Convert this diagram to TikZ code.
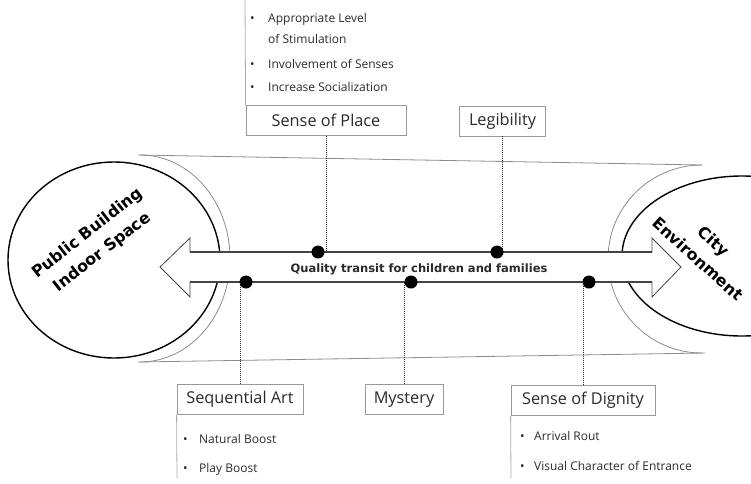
\documentclass[tikz,border=0pt]{standalone}
\usepackage{fontspec}
\setmainfont{Open Sans}
\newfontfamily\headfont{DejaVu Sans}
\definecolor{ink}{HTML}{2A2A2A}
\definecolor{boxgray}{HTML}{999999}
\definecolor{tubegray}{HTML}{8C8C8C}
\definecolor{shaftgray}{HTML}{444444}
\begin{document}
\begin{tikzpicture}[x=1pt,y=-1pt,
  box/.style={draw=boxgray, line width=0.8pt, fill=white, minimum height=30pt,
    inner sep=0pt, font=\fontsize{16.3}{18}\selectfont, text=ink},
  item/.style={anchor=base west, inner sep=0pt, font=\fontsize{12}{14}\selectfont, text=ink},
  dot/.style={circle, fill=black, minimum size=13pt, inner sep=0pt},
  link/.style={densely dotted, line width=1pt, draw=black!85},
  listline/.style={draw=boxgray!80, line width=0.8pt},
  tube/.style={draw=tubegray, line width=0.8pt},
  ring/.style={draw=black, line width=1.4pt},
  headtxt/.style={font=\headfont\bfseries\fontsize{16}{24}\selectfont, align=center, inner sep=0pt}]
\useasboundingbox (0,0) rectangle (751,483);

% tube between the two spaces
\draw[tube] (138,155) -- (702,165);
\draw[tube] (138,362) -- (705,353);
\draw[tube] (140,155) arc[start angle=-90, end angle=90, x radius=90, y radius=103.5];
\draw[tube] (702,165) arc[start angle=270, end angle=90, x radius=94, y radius=94];

% the two spaces
\draw[ring] (114,260) ellipse [x radius=106, y radius=98];
\draw[ring] (742,256) ellipse [x radius=120, y radius=80];
\node[headtxt, rotate=38] (pb) at (95,243) {Public Building\\Indoor Space};
\node[headtxt, rotate=-42] (ce) at (706,250) {City\\Environment};

% double-headed transit arrow
\draw[draw=shaftgray, line width=0.8pt, fill=white]
  (190,252) -- (652,252) -- (652,238) -- (681,267) -- (652,297) -- (652,282)
  -- (190,282) -- (190,297) -- (160,267) -- (190,238) -- cycle;
\draw[draw=shaftgray, line width=1.6pt] (190,252) -- (652,252);
\draw[draw=shaftgray, line width=1.6pt] (190,282) -- (652,282);
\node[font=\headfont\bfseries\fontsize{11.5}{13}\selectfont, text=ink] (ql) at (419,269.5)
  {Quality transit for children and families};

% qualities
\node[box, minimum width=160pt] (sop) at (326,120.5) {Sense of Place};
\node[box, minimum width=86pt] (leg) at (502.5,121) {Legibility};
\node[box, minimum width=126pt] (seq) at (240,399.5) {Sequential Art};
\node[box, minimum width=78pt] (mys) at (404,399.5) {Mystery};
\node[box, minimum width=144pt] (dig) at (583,400.5) {Sense of Dignity};

\node[dot] (d1) at (318,252) {};
\node[dot] (d2) at (497,252) {};
\node[dot] (d3) at (246,282) {};
\node[dot] (d4) at (411,282) {};
\node[dot] (d5) at (589,282) {};

\draw[link] (sop.south) -- (sop.south |- d1.center);
\draw[link] (leg.south) -- (leg.south |- d2.center);
\draw[link] (seq.north) -- (seq.north |- d3.center);
\draw[link] (mys.north) -- (mys.north |- d4.center);
\draw[link] (dig.north) -- (dig.north |- d5.center);

% bullet lists
\coordinate (sopend) at (245,0);
\coordinate (seqend) at (177,478);
\coordinate (digend) at (511,478);
\draw[listline] (sop.north west) -- (sopend);
\draw[listline] (seq.south west) -- (seqend);
\draw[listline] (dig.south west) -- (digend);

\node[item] (p1) at (250,22) {\makebox[18pt][l]{•}Appropriate Level};
\node[item] (p2) at (268,43) {of Stimulation};
\node[item] (p3) at (250,68) {\makebox[18pt][l]{•}Involvement of Senses};
\node[item] (p4) at (250,91) {\makebox[18pt][l]{•}Increase Socialization};

\node[item] (a1) at (183,443) {\makebox[16pt][l]{•}Natural Boost};
\node[item] (a2) at (183,472) {\makebox[16pt][l]{•}Play Boost};

\node[item] (g1) at (520,440) {\makebox[14pt][l]{•}Arrival Rout};
\node[item] (g2) at (520,470) {\makebox[14pt][l]{•}Visual Character of Entrance};
\end{tikzpicture}
\end{document}
